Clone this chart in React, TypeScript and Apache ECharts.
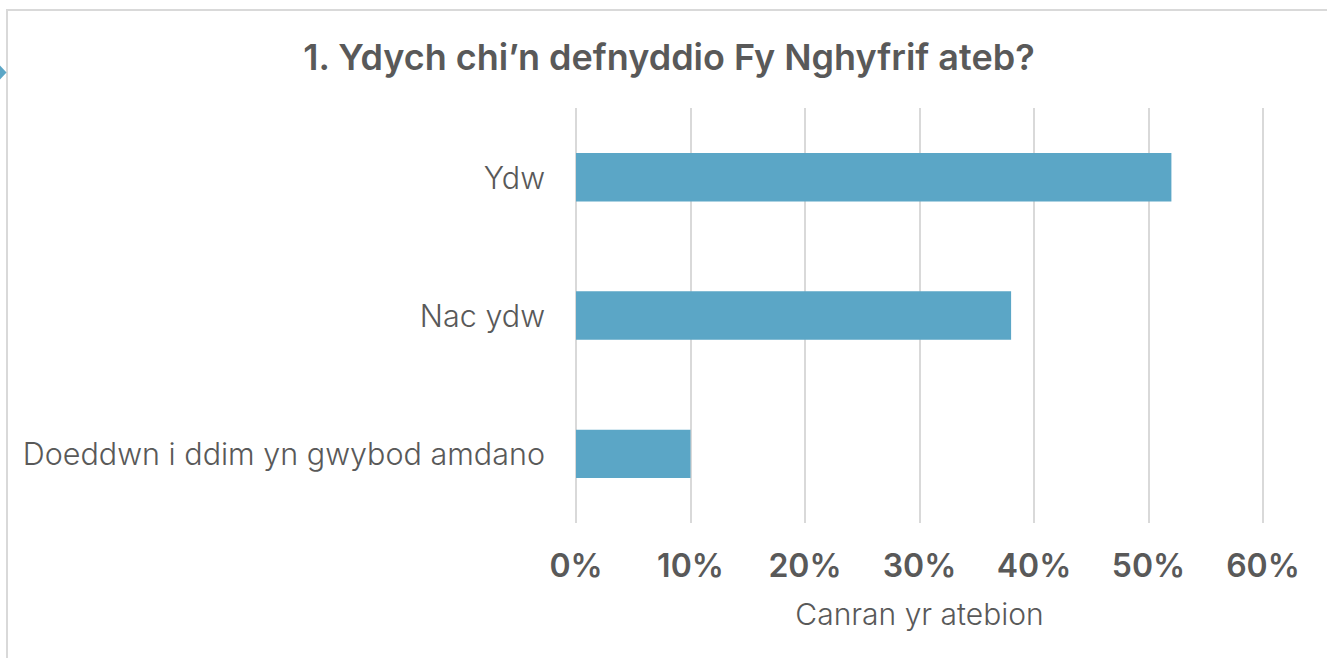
import React, { useEffect, useRef } from "react";
import * as echarts from "echarts";

const categories = ["Ydw", "Nac ydw", "Doeddwn i ddim yn gwybod amdano"];
const values = [52, 38, 10];
const xTicks = [0, 10, 20, 30, 40, 50, 60];

export default function App() {
  const ref = useRef<HTMLDivElement>(null);
  useEffect(() => {
    if (!ref.current) return;
    const chart = echarts.init(ref.current, null, { renderer: "svg" });
    const font = "Inter, 'Open Sans', sans-serif";
    chart.setOption({
      animation: false,
      backgroundColor: "#ffffff",
      title: {
        text: "1. Ydych chi\u2019n defnyddio Fy Nghyfrif ateb?",
        left: 664,
        textAlign: "center",
        top: 34,
        textStyle: { fontFamily: font, fontSize: 36, fontWeight: 600, color: "#595959" },
      },
      grid: { left: 576, right: 64, top: 108, bottom: 135, containLabel: false },
      xAxis: {
        type: "value",
        min: xTicks[0],
        max: xTicks[xTicks.length - 1],
        interval: 10,
        axisLine: { show: false },
        axisTick: { show: false },
        splitLine: { show: true, lineStyle: { color: "#d9d9d9", width: 2 } },
        axisLabel: {
          formatter: "{value}%",
          margin: 26,
          fontFamily: font,
          fontSize: 32,
          fontWeight: 600,
          color: "#595959",
        },
        name: "Canran yr atebion",
        nameLocation: "middle",
        nameGap: 76,
        nameTextStyle: { fontFamily: font, fontSize: 30, fontWeight: 300, color: "#595959" },
      },
      yAxis: {
        type: "category",
        data: categories,
        inverse: true,
        axisLine: { show: false },
        axisTick: { show: false },
        axisLabel: { margin: 31, fontFamily: font, fontSize: 30.5, fontWeight: 300, color: "#595959" },
      },
      series: [
        {
          type: "bar",
          data: values,
          barWidth: "35%",
          itemStyle: { color: "#5ba6c6" },
        },
      ],
      graphic: [
        { type: "line", shape: { x1: 6, y1: 10, x2: 1327, y2: 10 }, style: { stroke: "#d9d9d9", lineWidth: 2 } },
        { type: "line", shape: { x1: 7, y1: 9, x2: 7, y2: 658 }, style: { stroke: "#d9d9d9", lineWidth: 2 } },
        { type: "polygon", shape: { points: [[-7, 72.5], [0, 65.5], [6.5, 72.5], [0, 79.5]] }, style: { fill: "#5ba6c6" } },
      ],
    });
    return () => chart.dispose();
  }, []);
  return <div ref={ref} style={{ position: "fixed", left: 0, top: 0, width: 1327, height: 658 }} />;
}
